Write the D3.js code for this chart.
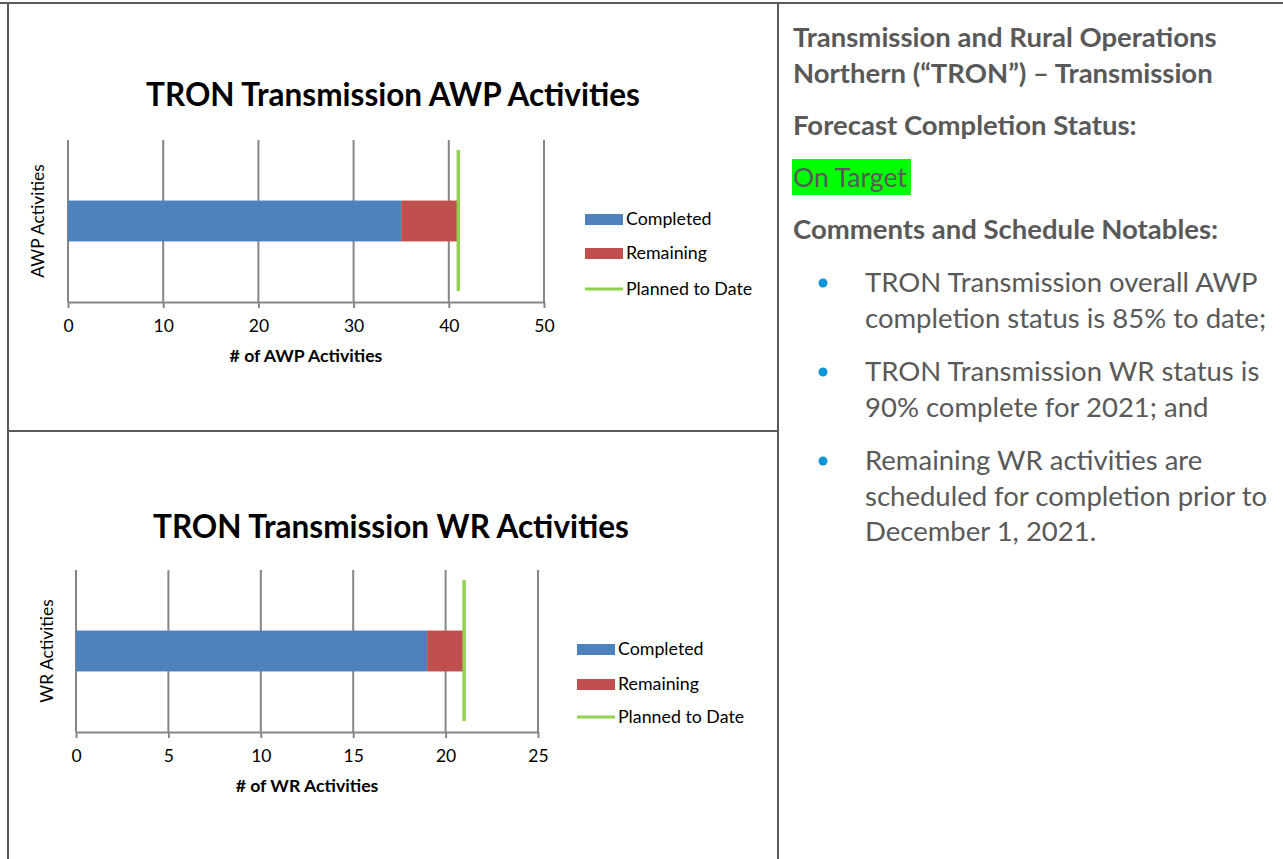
<!DOCTYPE html>
<html>
<head>
<meta charset="utf-8">
<script src="https://cdn.jsdelivr.net/npm/d3@7"></script>
<style>
  html, body { margin: 0; padding: 0; background: #fff; }
  svg { display: block; }
  text { font-family: Lato, "Open Sans", sans-serif; }
</style>
</head>
<body>
<svg id="page" width="1283" height="859"></svg>
<script>
// chart data
const chartTitles = ['TRON Transmission AWP Activities', 'TRON Transmission WR Activities']
const yLabels = ['AWP Activities', 'WR Activities']
const xLabels = ['# of AWP Activities', '# of WR Activities']
const completed = [35, 19]
const remaining = [6, 2]
const plannedToDate = [41, 21]
const xMax = [50, 25]
const xTicks = [[0, 10, 20, 30, 40, 50], [0, 5, 10, 15, 20, 25]]
const legendLabels = ['Completed', 'Remaining', 'Planned to Date']

// side panel text
const headingLines = ['Transmission and Rural Operations', 'Northern (\u201CTRON\u201D) \u2013 Transmission']
const statusHeading = 'Forecast Completion Status:'
const statusText = 'On Target'
const notesHeading = 'Comments and Schedule Notables:'
const bullets = [
  ['TRON Transmission overall AWP', 'completion status is 85% to date;'],
  ['TRON Transmission WR status is', '90% complete for 2021; and'],
  ['Remaining WR activities are', 'scheduled for completion prior to', 'December 1, 2021.']
]

const colors = { completed: '#4f81bd', remaining: '#c0504d', planned: '#92d050' }
const gridColor = '#868686'
const borderColor = '#5a5a5a'
const panelText = '#595959'

let svg = d3.select('#page')

// layout of each chart cell (pixels)
const layouts = [
  { left: 68, right: 544, top: 140, bottom: 302, titleX: 393, titleY: 106, yLabelX: 44, legendX: 585, legendY: [219, 253, 289] },
  { left: 76, right: 538, top: 570, bottom: 732, titleX: 391, titleY: 538, yLabelX: 53, legendX: 577, legendY: [649, 684, 717] }
]

layouts.forEach((L, i) => {
  let g = svg.append('g')

  let x = d3.scaleLinear().domain([0, xMax[i]]).range([L.left, L.right])
  let y = d3.scaleBand().domain([yLabels[i]]).range([L.top, L.bottom]).paddingInner(0).paddingOuter(1.48)

  // title
  g.append('text')
    .attr('x', L.titleX).attr('y', L.titleY)
    .attr('text-anchor', 'middle')
    .attr('font-size', 31.5).attr('font-weight', 'bold')
    .attr('fill', '#000')
    .text(chartTitles[i])

  // vertical gridlines
  g.append('g').selectAll('line')
    .data(xTicks[i].slice(1))
    .enter().append('line')
    .attr('x1', d => x(d)).attr('x2', d => x(d))
    .attr('y1', L.top).attr('y2', L.bottom)
    .attr('stroke', gridColor).attr('stroke-width', 2)

  // left axis line
  g.append('line')
    .attr('x1', L.left).attr('x2', L.left)
    .attr('y1', L.top).attr('y2', L.bottom)
    .attr('stroke', gridColor).attr('stroke-width', 2)

  // bottom axis
  let axis = g.append('g')
    .attr('transform', `translate(0,${L.bottom})`)
    .call(d3.axisBottom(x).tickValues(xTicks[i]).tickSize(6).tickSizeOuter(0).tickPadding(12))
  axis.select('.domain').attr('stroke', gridColor).attr('stroke-width', 2)
  axis.selectAll('.tick line').attr('stroke', gridColor).attr('stroke-width', 2)
  axis.selectAll('.tick text')
    .attr('font-family', 'Lato, sans-serif')
    .attr('font-size', 17.5).attr('fill', '#000')

  // bars
  const stack = [
    { start: 0, end: completed[i], color: colors.completed },
    { start: completed[i], end: completed[i] + remaining[i], color: colors.remaining }
  ]
  g.append('g').selectAll('rect')
    .data(stack)
    .enter().append('rect')
    .attr('x', d => x(d.start))
    .attr('width', d => x(d.end) - x(d.start))
    .attr('y', y(yLabels[i]))
    .attr('height', y.bandwidth())
    .attr('fill', d => d.color)

  // planned to date line
  g.append('line')
    .attr('x1', x(plannedToDate[i])).attr('x2', x(plannedToDate[i]))
    .attr('y1', L.top + 10).attr('y2', L.bottom - 11)
    .attr('stroke', colors.planned).attr('stroke-width', 3.5)

  // axis titles
  g.append('text')
    .attr('x', (L.left + L.right) / 2).attr('y', L.bottom + 60)
    .attr('text-anchor', 'middle')
    .attr('font-size', 17.7).attr('font-weight', 'bold')
    .attr('fill', '#000')
    .text(xLabels[i])

  g.append('text')
    .attr('transform', `translate(${L.yLabelX},${(L.top + L.bottom) / 2}) rotate(-90)`)
    .attr('text-anchor', 'middle')
    .attr('font-size', 17.3)
    .attr('fill', '#000')
    .text(yLabels[i])

  // legend
  let legend = g.append('g')
  legendLabels.forEach((lab, k) => {
    let ly = L.legendY[k]
    if (k < 2) {
      legend.append('rect')
        .attr('x', L.legendX).attr('y', ly - 5)
        .attr('width', 38).attr('height', 11)
        .attr('fill', k === 0 ? colors.completed : colors.remaining)
    } else {
      legend.append('line')
        .attr('x1', L.legendX).attr('x2', L.legendX + 38)
        .attr('y1', ly).attr('y2', ly)
        .attr('stroke', colors.planned).attr('stroke-width', 3)
    }
    legend.append('text')
      .attr('x', L.legendX + 41).attr('y', ly + 6)
      .attr('font-size', 17.8)
      .attr('fill', '#000')
      .text(lab)
  })
})

// table borders
const borders = [
  [0, 3, 1283, 3],
  [8, 3, 8, 859],
  [778, 3, 778, 859],
  [8, 431, 778, 431]
]
svg.append('g').selectAll('line')
  .data(borders)
  .enter().append('line')
  .attr('x1', d => d[0]).attr('y1', d => d[1])
  .attr('x2', d => d[2]).attr('y2', d => d[3])
  .attr('stroke', borderColor).attr('stroke-width', 2)

// right-hand panel
let panel = svg.append('g')
const px = 793

headingLines.forEach((line, k) => {
  panel.append('text')
    .attr('x', px).attr('y', 47 + k * 36)
    .attr('font-size', 27.5).attr('font-weight', 'bold')
    .attr('fill', panelText)
    .text(line)
})

panel.append('text')
  .attr('x', px).attr('y', 135)
  .attr('font-size', 27.5).attr('font-weight', 'bold')
  .attr('fill', panelText)
  .text(statusHeading)

panel.append('rect')
  .attr('x', 792).attr('y', 159)
  .attr('width', 119).attr('height', 36)
  .attr('fill', '#00ff00')
panel.append('text')
  .attr('x', px).attr('y', 187)
  .attr('font-size', 26.5)
  .attr('fill', panelText)
  .text(statusText)

panel.append('text')
  .attr('x', px).attr('y', 239)
  .attr('font-size', 27.5).attr('font-weight', 'bold')
  .attr('fill', panelText)
  .text(notesHeading)

const bulletTops = [283, 372, 461]
bullets.forEach((lines, b) => {
  panel.append('circle')
    .attr('cx', 823).attr('cy', bulletTops[b])
    .attr('r', 4.5)
    .attr('fill', '#0f94d8')
  lines.forEach((line, k) => {
    panel.append('text')
      .attr('x', 865).attr('y', bulletTops[b] + 9 + k * 35.5)
      .attr('font-size', 27.5)
      .attr('fill', panelText)
      .text(line)
  })
})
</script>
</body>
</html>
